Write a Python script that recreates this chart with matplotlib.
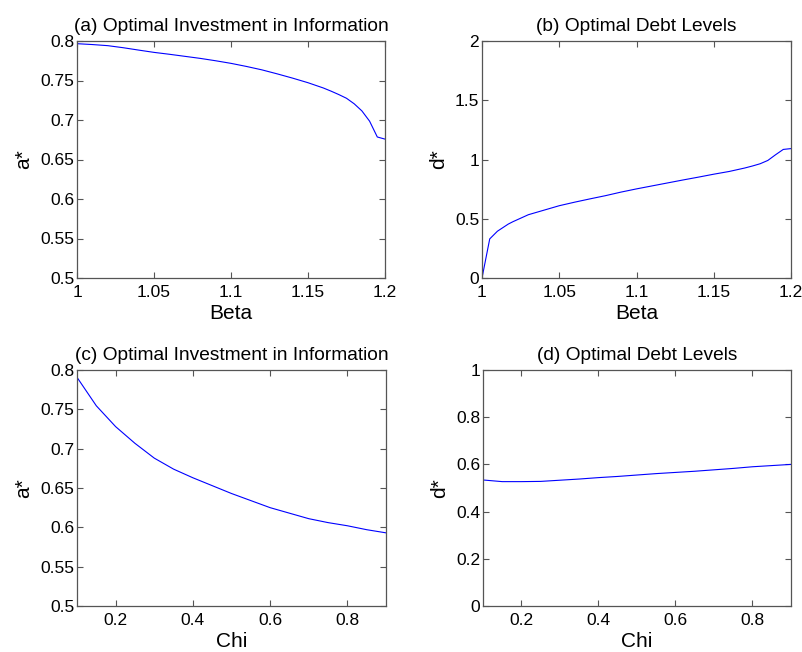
import matplotlib
matplotlib.use("Agg")
import matplotlib.pyplot as plt

plt.rcParams['font.family'] = ['Liberation Sans', 'DejaVu Sans']

beta_a = [1.00, 1.01, 1.02, 1.03, 1.04, 1.05, 1.06, 1.07, 1.08, 1.09, 1.10, 1.11, 1.12,
          1.13, 1.14, 1.15, 1.16, 1.165, 1.17, 1.175, 1.18, 1.185, 1.19, 1.195, 1.20]
a_beta = [0.7966, 0.7955, 0.7941, 0.7915, 0.7885, 0.7856, 0.7832, 0.7806, 0.7780, 0.7750,
          0.7717, 0.7678, 0.7635, 0.7584, 0.7530, 0.7472, 0.7405, 0.7365, 0.7322, 0.7275,
          0.7205, 0.7115, 0.6985, 0.6785, 0.6758]

beta_d = [1.000, 1.005, 1.010, 1.017, 1.020, 1.030, 1.040, 1.050, 1.060, 1.070, 1.080, 1.090,
          1.100, 1.110, 1.120, 1.130, 1.140, 1.150, 1.160, 1.170, 1.175, 1.180, 1.185, 1.190,
          1.195, 1.200]
d_beta = [0.000, 0.330, 0.395, 0.455, 0.475, 0.534, 0.572, 0.610, 0.640, 0.668, 0.695, 0.725,
          0.752, 0.777, 0.802, 0.827, 0.851, 0.876, 0.899, 0.928, 0.945, 0.964, 0.992, 1.040,
          1.085, 1.092]

chi = [0.10, 0.15, 0.20, 0.25, 0.30, 0.35, 0.40, 0.45, 0.50, 0.55, 0.60, 0.65, 0.70, 0.75,
       0.80, 0.85, 0.90]
a_chi = [0.7907, 0.7545, 0.728, 0.7068, 0.688, 0.674, 0.663, 0.653, 0.643, 0.634, 0.625,
         0.618, 0.611, 0.606, 0.602, 0.597, 0.593]
d_chi = [0.534, 0.527, 0.527, 0.528, 0.533, 0.538, 0.544, 0.549, 0.555, 0.561, 0.566, 0.571,
         0.577, 0.583, 0.590, 0.595, 0.600]

titles = ["(a) Optimal Investment in Information", "(b) Optimal Debt Levels",
          "(c) Optimal Investment in Information", "(d) Optimal Debt Levels"]
xlabels = ["Beta", "Beta", "Chi", "Chi"]
ylabels = ["a*", "d*", "a*", "d*"]
xticks_beta = [1, 1.05, 1.1, 1.15, 1.2]
xticklabels_beta = ["1", "1.05", "1.1", "1.15", "1.2"]
xticks_chi = [0.2, 0.4, 0.6, 0.8]
xticklabels_chi = ["0.2", "0.4", "0.6", "0.8"]
yticks_a = [0.5, 0.55, 0.6, 0.65, 0.7, 0.75, 0.8]
yticklabels_a = ["0.5", "0.55", "0.6", "0.65", "0.7", "0.75", "0.8"]
yticks_db = [0, 0.5, 1, 1.5, 2]
yticklabels_db = ["0", "0.5", "1", "1.5", "2"]
yticks_dc = [0, 0.2, 0.4, 0.6, 0.8, 1]
yticklabels_dc = ["0", "0.2", "0.4", "0.6", "0.8", "1"]

W, H = 803, 652
fig = plt.figure(figsize=(W / 100, H / 100), dpi=100)

def rect(x0, y0, x1, y1):
    return [x0 / W, 1 - y1 / H, (x1 - x0) / W, (y1 - y0) / H]

axes = [fig.add_axes(rect(77, 41, 385, 278)),
        fig.add_axes(rect(482, 41, 791, 278)),
        fig.add_axes(rect(77, 370, 386, 606)),
        fig.add_axes(rect(483, 370, 791, 606))]

data = [(beta_a, a_beta), (beta_d, d_beta), (chi, a_chi), (chi, d_chi)]
xlims = [(1, 1.2), (1, 1.2), (0.1, 0.9), (0.1, 0.9)]
ylims = [(0.5, 0.8), (0, 2), (0.5, 0.8), (0, 1)]
xt = [(xticks_beta, xticklabels_beta), (xticks_beta, xticklabels_beta),
      (xticks_chi, xticklabels_chi), (xticks_chi, xticklabels_chi)]
yt = [(yticks_a, yticklabels_a), (yticks_db, yticklabels_db),
      (yticks_a, yticklabels_a), (yticks_dc, yticklabels_dc)]

for i, ax in enumerate(axes):
    x, y = data[i]
    ax.plot(x, y, color='#0000ff', linewidth=0.8)
    ax.set_xlim(*xlims[i])
    ax.set_ylim(*ylims[i])
    ax.set_xticks(xt[i][0])
    ax.set_xticklabels(xt[i][1])
    ax.set_yticks(yt[i][0])
    ax.set_yticklabels(yt[i][1])
    ax.tick_params(direction='in', length=4, width=0.8, top=True, right=True,
                   labelsize=12.5, colors='#555555', labelcolor='black')
    ax.tick_params(axis='x', pad=5)
    ax.tick_params(axis='y', pad=2)
    for s in ax.spines.values():
        s.set_color('#555555')
        s.set_linewidth(0.9)
    ax.set_title(titles[i], fontsize=13.8, pad=7)
    ax.set_xlabel(xlabels[i], fontsize=15, labelpad=3)
    ax.set_ylabel(ylabels[i], fontsize=15, labelpad=5)

fig.savefig("out.png", dpi=100)
